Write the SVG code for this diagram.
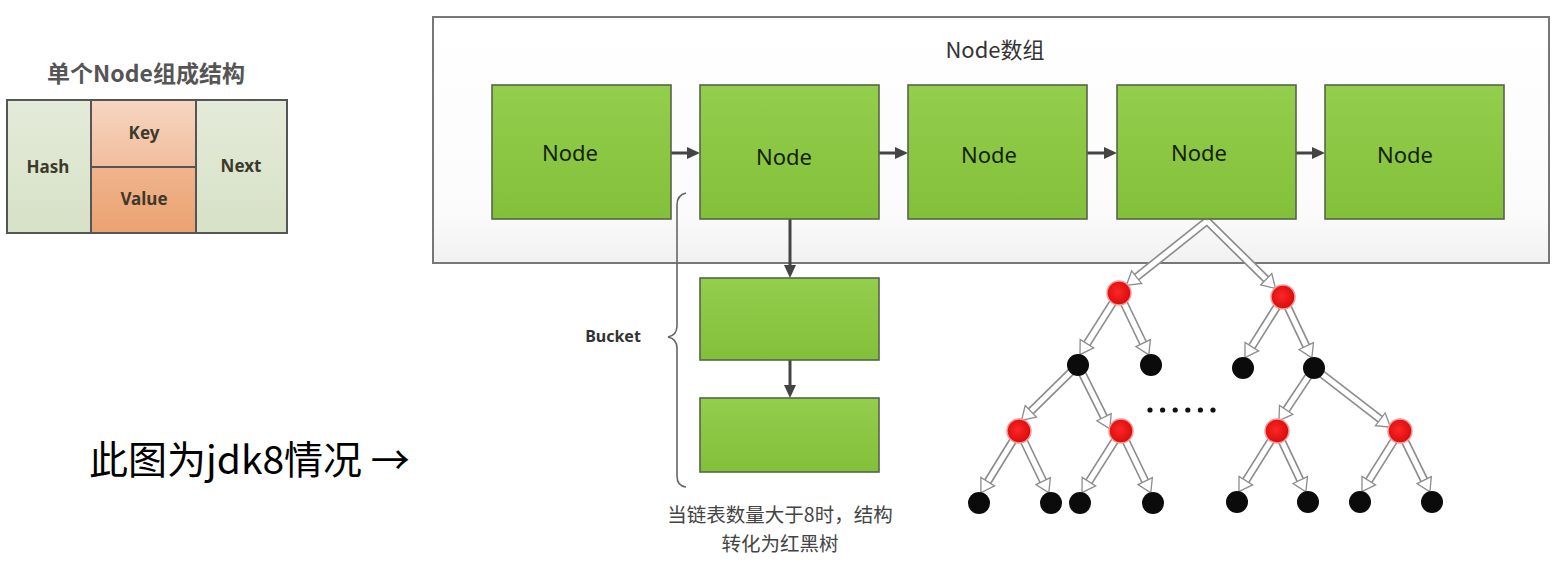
<svg xmlns="http://www.w3.org/2000/svg" width="1567" height="567" viewBox="0 0 1567 567">
<defs>
<style>
.sans{font-family:"Noto Sans","Noto Sans CJK SC",sans-serif}
.cjk{font-family:"Noto Sans CJK SC","Noto Sans",sans-serif}
.gbox{fill:url(#green);stroke:#56644c;stroke-width:1.6}
.ntext{font-size:22px;fill:#15220c;text-anchor:middle}
.cell{stroke:#555;stroke-width:2}
.ctext{font-size:17px;fill:#3b3a2c;font-weight:bold;text-anchor:middle}
.darr{stroke:#444;stroke-width:3;fill:none;marker-end:url(#dark)}
.ho{stroke:#8c8c8c;stroke-width:8.5;fill:none}
.hi{stroke:#fff;stroke-width:5.2;fill:none;marker-end:url(#hollow)}
.red{fill:url(#redg);stroke:#f39a9a;stroke-width:1.5}
.blk{fill:#0b0b0b}
</style>
<linearGradient id="green" x1="0" y1="0" x2="0" y2="1">
<stop offset="0" stop-color="#93ce4c"/><stop offset="1" stop-color="#83c03a"/>
</linearGradient>
<linearGradient id="sage" x1="0" y1="0" x2="0" y2="1">
<stop offset="0" stop-color="#e4ebd9"/><stop offset="1" stop-color="#d7e1c6"/>
</linearGradient>
<linearGradient id="keyg" x1="0" y1="0" x2="0" y2="1">
<stop offset="0" stop-color="#f7d6c2"/><stop offset="1" stop-color="#f1bd9c"/>
</linearGradient>
<linearGradient id="valg" x1="0" y1="0" x2="0" y2="1">
<stop offset="0" stop-color="#f0b48c"/><stop offset="1" stop-color="#eba271"/>
</linearGradient>
<linearGradient id="cont" x1="0" y1="0" x2="0" y2="1">
<stop offset="0" stop-color="#ffffff"/><stop offset="0.8" stop-color="#fbfbfb"/><stop offset="1" stop-color="#f1f1f1"/>
</linearGradient>
<radialGradient id="redg" cx="0.45" cy="0.45" r="0.6">
<stop offset="0" stop-color="#ff2626"/><stop offset="1" stop-color="#d40a0a"/>
</radialGradient>
<marker id="dark" markerUnits="userSpaceOnUse" viewBox="-2 -8 16 16" markerWidth="16" markerHeight="16" refX="0" refY="0" orient="auto">
<path d="M-1,-6 L12,0 L-1,6 Z" fill="#444"/>
</marker>
<marker id="hollow" markerUnits="userSpaceOnUse" viewBox="-3 -11 17 22" markerWidth="17" markerHeight="22" refX="0" refY="0" orient="auto">
<path d="M12,0 L-1,-8 L-1,8 Z" fill="#fff" stroke="#8c8c8c" stroke-width="1.3" stroke-linejoin="miter"/>
</marker>
</defs>

<rect width="1567" height="567" fill="#ffffff"/>

<!-- single node structure -->
<g id="node-structure">
<text x="146" y="82" class="cjk" font-size="23" font-weight="bold" fill="#555" text-anchor="middle">单个Node组成结构</text>
<rect x="7" y="100" width="84" height="133" fill="url(#sage)" class="cell"/>
<rect x="91" y="100" width="105" height="67" fill="url(#keyg)" class="cell"/>
<rect x="91" y="167" width="105" height="66" fill="url(#valg)" class="cell"/>
<rect x="196" y="100" width="91" height="133" fill="url(#sage)" class="cell"/>
<text x="48" y="173" class="sans ctext">Hash</text>
<text x="144" y="139" class="sans ctext">Key</text>
<text x="144" y="205" class="sans ctext">Value</text>
<text x="241" y="172" class="sans ctext">Next</text>
</g>

<g id="caption-jdk8">
<text x="89" y="474" class="cjk" font-size="39" fill="#000">此图为jdk8情况 →</text>
</g>

<!-- Node array container -->
<g id="node-array">
<rect x="433" y="17" width="1116" height="246" fill="url(#cont)" stroke="#777" stroke-width="2"/>
<text x="995" y="58" class="cjk" font-size="22" fill="#333" text-anchor="middle">Node数组</text>
</g>

<g id="connectors">
<line x1="671" y1="153" x2="688" y2="153" class="darr"/>
<line x1="879" y1="153" x2="896" y2="153" class="darr"/>
<line x1="1087" y1="153" x2="1105" y2="153" class="darr"/>
<line x1="1296" y1="153" x2="1313" y2="153" class="darr"/>
<line x1="790" y1="219" x2="790" y2="266" class="darr"/>
<line x1="790" y1="360" x2="790" y2="386" class="darr"/>
<!-- hollow tree arrows -->
<g id="tree-arrows-outer">
<path class="ho" d="M1207,221 L1135.8,277.8"/>
<path class="ho" d="M1207,221 L1266.9,280"/>
<path class="ho" d="M1119,293 L1086.4,344.5"/>
<path class="ho" d="M1119,293 L1143.6,344"/>
<path class="ho" d="M1283,297 L1251.3,347.5"/>
<path class="ho" d="M1283,297 L1306.7,347"/>
<path class="ho" d="M1078,365 L1030.1,412"/>
<path class="ho" d="M1078,365 L1104.5,418.1"/>
<path class="ho" d="M1314,368 L1285.6,410.7"/>
<path class="ho" d="M1314,368 L1381.1,419.9"/>
<path class="ho" d="M1019,431 L987.2,482.5"/>
<path class="ho" d="M1019,431 L1043.6,482"/>
<path class="ho" d="M1121,431 L1088.4,482.5"/>
<path class="ho" d="M1121,431 L1145.6,482"/>
<path class="ho" d="M1277,431 L1245.3,481.5"/>
<path class="ho" d="M1277,431 L1300.7,481"/>
<path class="ho" d="M1400,431 L1368.3,481.5"/>
<path class="ho" d="M1400,431 L1424.6,481"/>
</g>
<g id="tree-arrows-inner">
<path class="hi" d="M1207,221 L1135.8,277.8"/>
<path class="hi" d="M1207,221 L1266.9,280"/>
<path class="hi" d="M1119,293 L1086.4,344.5"/>
<path class="hi" d="M1119,293 L1143.6,344"/>
<path class="hi" d="M1283,297 L1251.3,347.5"/>
<path class="hi" d="M1283,297 L1306.7,347"/>
<path class="hi" d="M1078,365 L1030.1,412"/>
<path class="hi" d="M1078,365 L1104.5,418.1"/>
<path class="hi" d="M1314,368 L1285.6,410.7"/>
<path class="hi" d="M1314,368 L1381.1,419.9"/>
<path class="hi" d="M1019,431 L987.2,482.5"/>
<path class="hi" d="M1019,431 L1043.6,482"/>
<path class="hi" d="M1121,431 L1088.4,482.5"/>
<path class="hi" d="M1121,431 L1145.6,482"/>
<path class="hi" d="M1277,431 L1245.3,481.5"/>
<path class="hi" d="M1277,431 L1300.7,481"/>
<path class="hi" d="M1400,431 L1368.3,481.5"/>
<path class="hi" d="M1400,431 L1424.6,481"/>
</g>
</g>

<g id="node1"><rect x="492" y="85" width="179" height="134" class="gbox"/><text x="570" y="161" class="sans ntext">Node</text></g>
<g id="node2"><rect x="700" y="85" width="179" height="134" class="gbox"/><text x="784" y="165" class="sans ntext">Node</text></g>
<g id="node3"><rect x="908" y="85" width="179" height="134" class="gbox"/><text x="989" y="163" class="sans ntext">Node</text></g>
<g id="node4"><rect x="1117" y="85" width="179" height="134" class="gbox"/><text x="1199" y="161" class="sans ntext">Node</text></g>
<g id="node5"><rect x="1325" y="85" width="179" height="134" class="gbox"/><text x="1405" y="163" class="sans ntext">Node</text></g>

<g id="bucket-node1"><rect x="700" y="278" width="179" height="82" class="gbox"/></g>
<g id="bucket-node2"><rect x="700" y="398" width="179" height="74" class="gbox"/></g>

<g id="bucket-brace">
<path d="M686,193 Q677,195 677,205 L677,326 Q677,335 668,337 Q677,339 677,348 L677,476 Q677,486 686,487" fill="none" stroke="#666" stroke-width="1.6"/>
<text x="613" y="342" class="sans" font-size="16" font-weight="bold" fill="#333" text-anchor="middle">Bucket</text>
</g>

<g id="bucket-note">
<text x="780" y="522" class="cjk" font-size="19.5" fill="#444" text-anchor="middle">当链表数量大于8时，结构</text>
<text x="780" y="551" class="cjk" font-size="19.5" fill="#444" text-anchor="middle">转化为红黑树</text>
</g>

<g id="rb-tree">
<circle id="t-r1" cx="1119" cy="293" r="12" class="red"/>
<circle id="t-r2" cx="1283" cy="297" r="12" class="red"/>
<circle id="t-b1" cx="1078" cy="365" r="11" class="blk"/>
<circle id="t-b2" cx="1151" cy="365" r="11" class="blk"/>
<circle id="t-b3" cx="1243" cy="368" r="11" class="blk"/>
<circle id="t-b4" cx="1314" cy="368" r="11" class="blk"/>
<circle id="t-r3" cx="1019" cy="431" r="12" class="red"/>
<circle id="t-r4" cx="1121" cy="431" r="12" class="red"/>
<circle id="t-r5" cx="1277" cy="431" r="12" class="red"/>
<circle id="t-r6" cx="1400" cy="431" r="12" class="red"/>
<circle id="t-l1" cx="979" cy="503" r="11" class="blk"/>
<circle id="t-l2" cx="1051" cy="503" r="11" class="blk"/>
<circle id="t-l3" cx="1080" cy="503" r="11" class="blk"/>
<circle id="t-l4" cx="1153" cy="503" r="11" class="blk"/>
<circle id="t-l5" cx="1237" cy="502" r="11" class="blk"/>
<circle id="t-l6" cx="1308" cy="502" r="11" class="blk"/>
<circle id="t-l7" cx="1360" cy="502" r="11" class="blk"/>
<circle id="t-l8" cx="1432" cy="502" r="11" class="blk"/>
<g id="ellipsis" fill="#111">
<circle cx="1150" cy="410" r="2.6"/><circle cx="1162.6" cy="410" r="2.6"/><circle cx="1175.2" cy="410" r="2.6"/>
<circle cx="1187.8" cy="410" r="2.6"/><circle cx="1200.4" cy="410" r="2.6"/><circle cx="1213" cy="410" r="2.6"/>
</g>
</g>
</svg>
